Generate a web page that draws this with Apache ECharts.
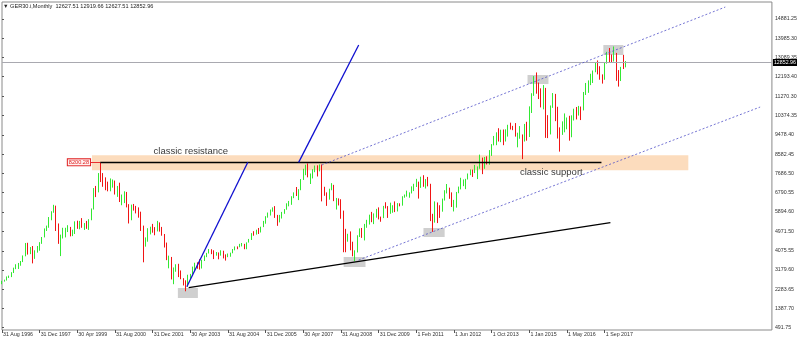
<!DOCTYPE html>
<html><head><meta charset="utf-8">
<script src="https://cdn.jsdelivr.net/npm/echarts@6/dist/echarts.min.js"></script>
<style>html,body{margin:0;padding:0;background:#fff}#c{width:800px;height:344px}</style>
</head><body><div id="c"></div>
<script>
// ---- axis texts ----
const tickLabels = ['31 Aug 1996','31 Dec 1997','30 Apr 1999','31 Aug 2000','31 Dec 2001','30 Apr 2003','31 Aug 2004','31 Dec 2005','30 Apr 2007','31 Aug 2008','31 Dec 2009','1 Feb 2011','1 Jun 2012','1 Oct 2013','1 Jan 2015','1 May 2016','1 Sep 2017'];
const yTicks = [14881.25,13985.30,13089.35,12193.40,11270.30,10374.35,9478.40,8582.45,7686.50,6790.55,5894.60,4971.50,4075.55,3179.60,2283.65,1387.70,491.75];
const titleText = 'GER30.i,Monthly  12627.51 12919.66 12627.51 12852.96';

// ---- monthly candles ----
const opens = [
2540,2670,2700,2860,
2889,3050,3260,3420,3440,3590,3830,4420,3990,4170,3780,4020,
4250,4440,4710,5100,5200,5600,5900,6150,5130,4470,4670,4990,
5000,5140,4880,4890,5390,5110,5380,5200,5330,5150,5520,6030,
6958,6840,7640,7600,7410,7110,6900,7190,7200,6800,7080,6370,
6430,6800,6200,5830,6200,6120,6060,5860,5190,4310,4560,5020,
5160,5110,5040,5400,5040,4820,4380,3700,3710,2770,3150,3320,
2890,2750,2550,2420,2940,2980,3220,3490,3480,3260,3660,3850,
3965,4060,4020,3860,3990,3920,4050,3900,3790,3890,3960,4130,
4256,4250,4350,4350,4180,4460,4590,4890,4830,5040,4930,5190,
5410,5670,5800,5970,6010,5690,5680,5680,5860,6000,6270,6310,
6600,6790,6720,6920,7410,7880,8010,7580,7640,7860,8020,7870,
8067,6850,6750,6530,6950,7100,6420,6480,6420,5830,4990,4670,
4810,4340,3840,4080,4770,4940,4810,5330,5460,5680,5410,5630,
5960,5610,5600,6150,6140,5960,5970,6150,5930,6230,6220,6600,6650,6690,6760,
6910,7080,7270,7040,7510,7290,7380,7160,5780,5500,6140,6090,
5900,6460,6860,6950,6760,6260,6420,6770,6970,7220,7260,7410,
7610,7780,7740,7800,7910,8350,7960,8280,8100,8590,9030,9400,
9550,9310,9690,9560,9600,9940,9830,9800,9410,9470,9470,9330,9980,
9810,10690,11400,11970,11450,11410,10940,11310,10260,9660,10850,11380,
10740,9800,9500,9970,10040,10260,9680,10340,10590,10510,10670,10640,
11480,11540,11830,12310,12440,12620,12330,12120,12060,12830,13230,13020,
12920,13190,12440,12100,12610,12627.51
];
const highs = [
2680,2730,2880,2920,
3080,3290,3450,3510,3600,3860,4440,4450,4250,4300,4100,4300,
4480,4720,5120,5250,5650,5920,6220,6180,5350,4830,5150,5150,
5270,5190,5060,5450,5480,5470,5600,5370,5470,5550,6050,7000,
7100,7700,8180,7700,7500,7300,7450,7400,7350,7100,7250,6700,
6850,6820,6250,6230,6260,6170,6100,5900,5250,4700,5130,5200,
5330,5180,5470,5400,5190,4860,4460,3850,3790,3300,3450,3470,
3160,2800,2700,2960,3000,3340,3520,3540,3680,3660,3860,3980,
4160,4150,4100,4020,4000,4100,4080,3910,3950,3990,4160,4280,
4280,4400,4440,4400,4470,4630,4900,4990,5060,5140,5200,5470,
5690,5860,6000,6100,6160,5750,5750,5890,6020,6290,6400,6620,
6800,7050,6950,7420,7900,8090,8150,7680,7880,8050,8060,8100,
8100,7060,6800,6970,7230,7150,6540,6520,6480,5950,5100,4870,
4980,4500,4100,4800,5120,5140,5330,5520,5760,5890,5820,6030,
6100,5670,6170,6340,6160,6320,6200,6380,6300,6290,6620,6700,6880,6800,7080,
7200,7430,7300,7530,7600,7420,7520,7200,5800,6380,6330,6200,
6510,6900,7190,7020,6800,6450,6820,7070,7480,7400,7430,7680,
7870,7860,8080,8010,8560,8420,8450,8480,8770,9050,9430,9600,
9790,9720,9730,9740,9950,10050,9900,10030,9580,9890,9500,9990,10090,
10810,11420,12220,12390,11920,11650,11800,11670,10400,10850,11430,11390,
10790,9830,10110,10480,10290,10370,10390,10700,10780,10830,10800,11480,
11900,12020,12330,12480,12870,12950,12680,12300,12860,13350,13530,13230,
13600,13300,12500,12650,13210,12919.66
];
const lows = [
2520,2640,2690,2810,
2850,3040,3220,3230,3380,3550,3820,3900,3920,3490,3700,3990,
4080,4400,4700,5000,5150,5500,5850,5000,4400,3830,4650,4700,
4950,4750,4760,4860,5100,5080,5150,5050,5100,5050,5500,6000,
6580,6800,7280,7060,6900,6850,6850,7020,6700,6590,6350,6200,
6300,6100,5350,5500,5950,5820,5620,5000,3540,4270,4500,4840,
4920,4800,4980,4970,4780,4230,3640,3260,2740,2520,3100,2850,
2750,2460,2190,2400,2760,2970,3150,3240,3200,3250,3600,3780,
3950,3920,3690,3850,3680,3850,3720,3620,3780,3800,3960,4100,
4150,4240,4280,4150,4150,4460,4580,4780,4830,4860,4930,5180,
5340,5620,5720,5900,5610,5240,5400,5580,5800,5990,6150,6220,
6530,6630,6440,6900,7380,7600,7500,7190,7450,7740,7540,7780,
6380,6640,6170,6460,6900,6390,6000,6190,5570,4010,4010,4500,
4100,3820,3590,4000,4720,4680,4560,5150,5300,5410,5320,5620,
5540,5430,5600,6050,5610,5800,5850,5880,5910,6150,6180,6550,6600,6550,6750,
6860,7050,6510,7010,7060,6980,7080,5460,4960,5390,5370,5610,
5900,6420,6750,6500,6120,5910,6090,6760,6940,7090,6950,7400,
7600,7520,7700,7420,7900,7650,7900,8100,8090,8500,8990,9000,
9170,9140,9000,9170,9400,9730,9700,9400,8900,9300,8350,9170,9210,
9380,10500,11300,11400,11150,10760,10670,9340,9330,9500,10740,10120,
9310,8700,9480,9600,9740,9210,9370,10150,10200,10380,10170,10620,
11340,11440,11800,11900,12400,12300,12050,11870,12050,12800,12850,12850,
12900,12000,11730,11990,12550,12627.51
];
const closes = [
2670,2700,2860,2889,
3050,3260,3420,3440,3590,3830,4420,3990,4170,3780,4020,4250,
4440,4710,5100,5200,5600,5900,6150,5130,4470,4670,4990,5000,
5140,4880,4890,5390,5110,5380,5200,5330,5150,5520,6030,6958,
6840,7640,7600,7410,7110,6900,7190,7200,6800,7080,6370,6430,
6800,6200,5830,6200,6120,6060,5860,5190,4310,4560,5020,5160,
5110,5040,5400,5040,4820,4380,3700,3710,2770,3150,3320,2890,
2750,2550,2420,2940,2980,3220,3490,3480,3260,3660,3850,3965,
4060,4020,3860,3990,3920,4050,3900,3790,3890,3960,4130,4256,
4250,4350,4350,4180,4460,4590,4890,4830,5040,4930,5190,5410,
5670,5800,5970,6010,5690,5680,5680,5860,6000,6270,6310,6600,
6790,6720,6920,7410,7880,8010,7580,7640,7860,8020,7870,8067,
6850,6750,6530,6950,7100,6420,6480,6420,5830,4990,4670,4810,
4340,3840,4080,4770,4940,4810,5330,5460,5680,5410,5630,5960,
5610,5600,6150,6140,5960,5970,6150,5930,6230,6220,6600,6650,6690,6760,6910,
7080,7270,7040,7510,7290,7380,7160,5780,5500,6140,6090,5900,
6460,6860,6950,6760,6260,6420,6770,6970,7220,7260,7410,7610,
7780,7740,7800,7910,8350,7960,8280,8100,8590,9030,9400,9550,
9310,9690,9560,9600,9940,9830,9800,9410,9470,9470,9330,9980,9810,
10690,11400,11970,11450,11410,10940,11310,10260,9660,10850,11380,10740,
9800,9500,9970,10040,10260,9680,10340,10590,10510,10670,10640,11480,
11540,11830,12310,12440,12620,12330,12120,12060,12830,13230,13020,12920,
13190,12440,12100,12610,12600,12852.96
];

// ---- drawn objects (data space: bar index, price) ----
const resistanceLevel = 8200.28;
const lastPrice = 12852.96;
const resistanceFrom = 41.7, resistanceTo = 254.6, resistanceTagFrom = 37.4;
const band = [[38.2, 8528], [291.5, 7830]];
const boxes = [
  [[74.7, 2342], [83.2, 1876]],
  [[145.1, 3787], [154.4, 3321]],
  [[179.0, 5139], [188.0, 4719]],
  [[223.2, 12270], [232.1, 11850]],
  [[255.4, 13668], [263.9, 13202]]
];
const blueA = [[78.5, 2403], [104.4, 8200]];
const blueB = [[126.0, 8200], [151.5, 13668]];
const blackTrend = [[79.3, 2356], [258.4, 5386]];
const channelUpper = [[135.8, 8075], [307.2, 15439]];
const channelLower = [[151.5, 3647], [322.0, 10778]];
const texts = [
  {at: [80.2, 8728], text: 'classic resistance'},
  {at: [233.3, 7749], text: 'classic support'}
];

const N = 328;
const categories = Array.from({length: N}, (_, i) => String(i));
const candles = opens.map((o, i) => [o, closes[i], lows[i], highs[i]]);

const yMin = 384.5, yMax = 15674;
const smallFont = 'Liberation Sans';

const chart = echarts.init(document.getElementById('c'), null, {renderer: 'canvas'});
const seg = (pts, style, extra) => [Object.assign({coord: pts[0], lineStyle: style}, extra || {}), {coord: pts[1]}];

chart.setOption({
  animation: false,
  backgroundColor: '#fff',
  grid: {left: 1, right: 28, top: 2, bottom: 14, show: true, borderColor: '#8a8a8a', borderWidth: 1, backgroundColor: '#fff'},
  xAxis: [{
    type: 'category', data: categories, boundaryGap: false,
    axisLine: {show: false},
    axisTick: {show: true, length: 3, interval: (i) => i % 16 === 0 && i / 16 < tickLabels.length, lineStyle: {color: '#555'}},
    axisLabel: {interval: (i) => i % 16 === 0 && i / 16 < tickLabels.length,
      formatter: (v, i) => tickLabels[Math.round(Number(v) / 16)] || '',
      align: 'left', margin: 2, fontSize: 5.3, color: '#333', fontFamily: smallFont, padding: [0, 0, 0, 1]},
    splitLine: {show: false}
  }, {
    type: 'value', min: 0, max: N - 1, show: false
  }],
  yAxis: [{
    type: 'value', position: 'right', min: yMin, max: yMax,
    axisLine: {show: false},
    axisTick: {show: true, length: 2, customValues: yTicks, lineStyle: {color: '#555'}},
    axisLabel: {customValues: yTicks, formatter: (v) => Number(v).toFixed(2), margin: 3,
      fontSize: 5.3, color: '#333', fontFamily: smallFont},
    splitLine: {show: false}
  }],
  graphic: [{
    type: 'text', left: 3, top: 3,
    style: {text: '\u25BC ' + titleText, fontSize: 5.6, fill: '#222', fontFamily: smallFont}
  }],
  series: [
    { // background objects
      type: 'line', xAxisIndex: 1, yAxisIndex: 0, data: [], z: 1, silent: true,
      markArea: {silent: true, data: [
        [{coord: band[0], itemStyle: {color: '#fcdcbd'}}, {coord: band[1]}],
        ...boxes.map(b => [{coord: b[0], itemStyle: {color: '#cfcfcf'}}, {coord: b[1]}])
      ]}
    },
    {
      type: 'candlestick', xAxisIndex: 0, yAxisIndex: 0, data: candles, z: 3,
      barWidth: 1.2,
      itemStyle: {color: '#33e833', color0: '#f01414', borderColor: '#33e833', borderColor0: '#f01414', borderWidth: 1}
    },
    { // foreground objects
      type: 'line', xAxisIndex: 1, yAxisIndex: 0, data: [], z: 5, silent: true,
      markLine: {silent: true, symbol: 'none', label: {show: false}, data: [
        seg([[0, lastPrice], [N - 1, lastPrice]], {color: '#a9a9b0', width: 1, type: 'solid'},
          {label: {show: true, position: 'end', distance: 1, formatter: lastPrice.toFixed(2), backgroundColor: '#000', color: '#fff',
            fontSize: 5.3, fontFamily: smallFont, padding: [1, 1]}}),
        seg([[resistanceFrom, resistanceLevel], [resistanceTo, resistanceLevel]], {color: '#000', width: 1.3, type: 'solid'}),
        seg([[resistanceTagFrom, resistanceLevel], [resistanceFrom, resistanceLevel]], {color: '#e83030', width: 1, type: 'solid'},
          {label: {show: true, position: 'start', distance: 0, formatter: resistanceLevel.toFixed(2), color: '#e02020',
            backgroundColor: '#fff0f0', borderColor: '#e02020', borderWidth: 1, fontSize: 5.6, fontFamily: smallFont, padding: [0, 1]}}),
        seg(blueA, {color: '#1010d0', width: 1.3, type: 'solid'}),
        seg(blueB, {color: '#1010d0', width: 1.3, type: 'solid'}),
        seg(blackTrend, {color: '#000', width: 1.3, type: 'solid'}),
        seg(channelUpper, {color: '#5050c8', width: 0.8, type: [2, 2]}),
        seg(channelLower, {color: '#5050c8', width: 0.8, type: [2, 2]})
      ]},
      markPoint: {silent: true, symbol: 'circle', symbolSize: 0, data: texts.map(t => ({
        coord: t.at, label: {show: true, position: 'inside', formatter: t.text, color: '#3a3a3a', fontSize: 9.5, fontFamily: 'Liberation Sans'}
      }))}
    }
  ]
});
</script></body></html>
